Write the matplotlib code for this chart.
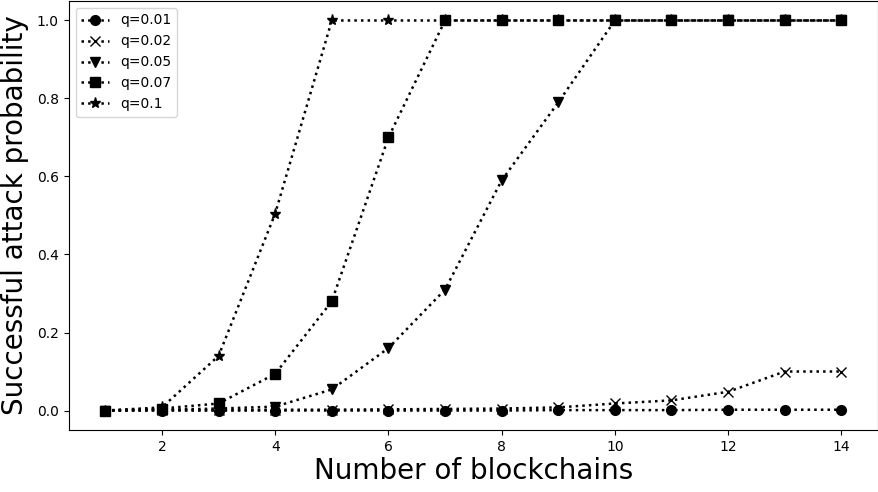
import matplotlib
matplotlib.use('Agg')
import matplotlib.pyplot as plt

blockchains = list(range(1, 15))
q_labels = ['q=0.01', 'q=0.02', 'q=0.05', 'q=0.07', 'q=0.1']
markers = ['o', 'x', 'v', 's', '*']

p_q001 = [0.0, 0.0, 0.0, 0.0, 0.0, 0.0, 0.0, 0.0, 0.001, 0.001, 0.001, 0.002, 0.002, 0.002]
p_q002 = [0.0, 0.001, 0.001, 0.002, 0.002, 0.003, 0.004, 0.005, 0.008, 0.018, 0.026, 0.048, 0.10, 0.10]
p_q005 = [0.0, 0.002, 0.005, 0.01, 0.054, 0.16, 0.31, 0.59, 0.79, 1.0, 1.0, 1.0, 1.0, 1.0]
p_q007 = [0.0, 0.005, 0.018, 0.094, 0.28, 0.70, 1.0, 1.0, 1.0, 1.0, 1.0, 1.0, 1.0, 1.0]
p_q01 = [0.0, 0.008, 0.14, 0.505, 1.0, 1.0, 1.0, 1.0, 1.0, 1.0, 1.0, 1.0, 1.0, 1.0]
series = [p_q001, p_q002, p_q005, p_q007, p_q01]

fig = plt.figure(figsize=(8.79, 4.92), dpi=100)
ax = fig.add_axes([0.078, 0.126, 0.921, 0.872])

for vals, lab, m in zip(series, q_labels, markers):
    ax.plot(blockchains, vals, linestyle=':', color='black', marker=m,
            markersize=7 if m != '*' else 8, linewidth=1.8, label=lab)

ax.set_xticks([2, 4, 6, 8, 10, 12, 14])
ax.set_yticks([0.0, 0.2, 0.4, 0.6, 0.8, 1.0])
ax.tick_params(labelsize=10)
ax.set_xlabel('Number of blockchains', fontsize=20, labelpad=2)
ax.set_ylabel('Successful attack probability', fontsize=20, labelpad=6)
ax.legend(loc='upper left', fontsize=10)

fig.savefig('out.png', dpi=100)
